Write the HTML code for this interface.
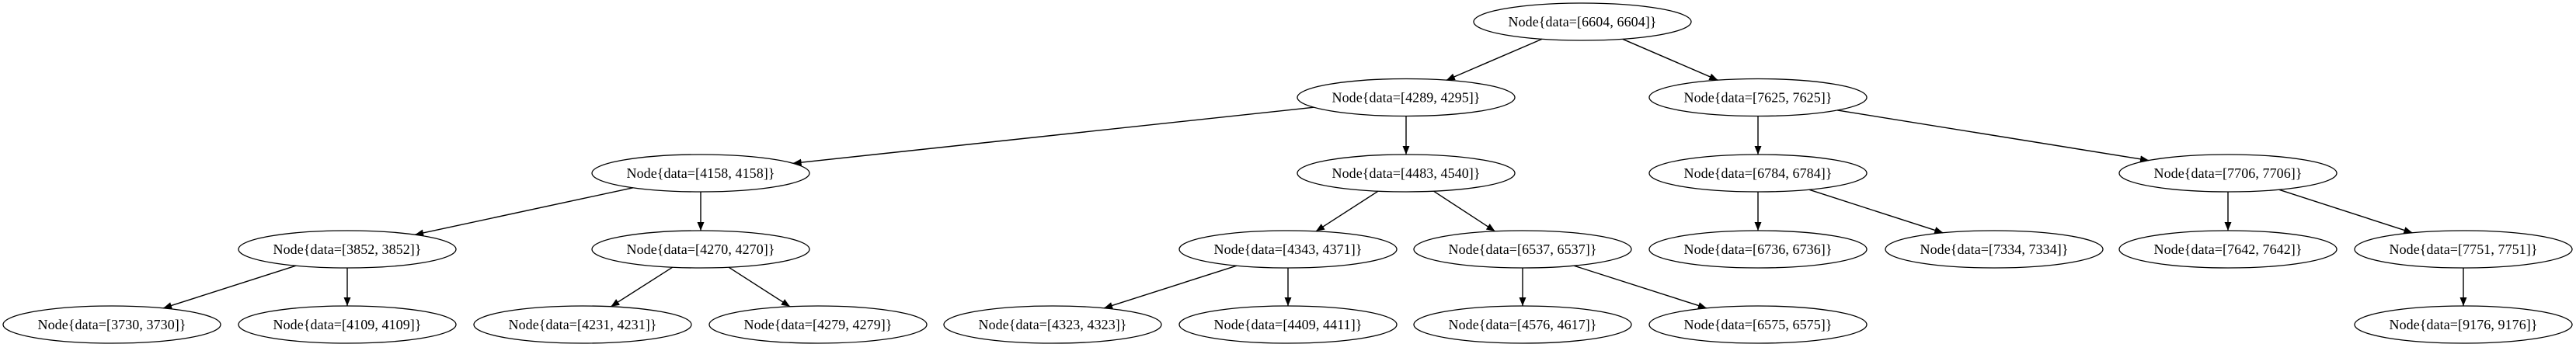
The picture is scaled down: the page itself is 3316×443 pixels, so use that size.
<!DOCTYPE html>
<html><head><meta charset="utf-8"><style>
html,body{margin:0;padding:0;background:#fff;}
svg{display:block;}
text{font-family:"Liberation Serif","DejaVu Serif",serif;font-size:18px;fill:#000;}
</style></head><body>
<svg id="s" width="3316" height="443" viewBox="0 0 3316 443" xmlns="http://www.w3.org/2000/svg">
<defs><marker id="a" markerUnits="userSpaceOnUse" markerWidth="12" markerHeight="10" refX="11" refY="4.5" orient="auto"><path d="M0,0 L11,4.5 L0,9 Z" fill="#000"/></marker></defs>
<g id="e" stroke="#000" stroke-width="1.4" fill="none"></g>
<g fill="none" stroke="#000" stroke-width="1.3">
<ellipse cx="2037" cy="28" rx="140" ry="24"/>
<ellipse cx="1810" cy="125.5" rx="140" ry="24"/>
<ellipse cx="2263" cy="125.5" rx="140" ry="24"/>
<ellipse cx="902" cy="223" rx="140" ry="24"/>
<ellipse cx="1810" cy="223" rx="140" ry="24"/>
<ellipse cx="2263" cy="223" rx="140" ry="24"/>
<ellipse cx="2868" cy="223" rx="140" ry="24"/>
<ellipse cx="447" cy="321" rx="140" ry="24"/>
<ellipse cx="902" cy="321" rx="140" ry="24"/>
<ellipse cx="1658" cy="321" rx="140" ry="24"/>
<ellipse cx="1960" cy="321" rx="140" ry="24"/>
<ellipse cx="2263" cy="321" rx="140" ry="24"/>
<ellipse cx="2567" cy="321" rx="140" ry="24"/>
<ellipse cx="2868" cy="321" rx="140" ry="24"/>
<ellipse cx="3171" cy="321" rx="140" ry="24"/>
<ellipse cx="144" cy="418" rx="140" ry="24"/>
<ellipse cx="447" cy="418" rx="140" ry="24"/>
<ellipse cx="750" cy="418" rx="140" ry="24"/>
<ellipse cx="1053" cy="418" rx="140" ry="24"/>
<ellipse cx="1355" cy="418" rx="140" ry="24"/>
<ellipse cx="1658" cy="418" rx="140" ry="24"/>
<ellipse cx="1960" cy="418" rx="140" ry="24"/>
<ellipse cx="2263" cy="418" rx="140" ry="24"/>
<ellipse cx="3171" cy="418" rx="140" ry="24"/>
</g>
<g text-anchor="middle">
<text x="2037" y="34" textLength="191">Node{data=[6604, 6604]}</text>
<text x="1810" y="131.5" textLength="191">Node{data=[4289, 4295]}</text>
<text x="2263" y="131.5" textLength="191">Node{data=[7625, 7625]}</text>
<text x="902" y="229" textLength="191">Node{data=[4158, 4158]}</text>
<text x="1810" y="229" textLength="191">Node{data=[4483, 4540]}</text>
<text x="2263" y="229" textLength="191">Node{data=[6784, 6784]}</text>
<text x="2868" y="229" textLength="191">Node{data=[7706, 7706]}</text>
<text x="447" y="327" textLength="191">Node{data=[3852, 3852]}</text>
<text x="902" y="327" textLength="191">Node{data=[4270, 4270]}</text>
<text x="1658" y="327" textLength="191">Node{data=[4343, 4371]}</text>
<text x="1960" y="327" textLength="191">Node{data=[6537, 6537]}</text>
<text x="2263" y="327" textLength="191">Node{data=[6736, 6736]}</text>
<text x="2567" y="327" textLength="191">Node{data=[7334, 7334]}</text>
<text x="2868" y="327" textLength="191">Node{data=[7642, 7642]}</text>
<text x="3171" y="327" textLength="191">Node{data=[7751, 7751]}</text>
<text x="144" y="424" textLength="191">Node{data=[3730, 3730]}</text>
<text x="447" y="424" textLength="191">Node{data=[4109, 4109]}</text>
<text x="750" y="424" textLength="191">Node{data=[4231, 4231]}</text>
<text x="1053" y="424" textLength="191">Node{data=[4279, 4279]}</text>
<text x="1355" y="424" textLength="191">Node{data=[4323, 4323]}</text>
<text x="1658" y="424" textLength="191">Node{data=[4409, 4411]}</text>
<text x="1960" y="424" textLength="191">Node{data=[4576, 4617]}</text>
<text x="2263" y="424" textLength="191">Node{data=[6575, 6575]}</text>
<text x="3171" y="424" textLength="191">Node{data=[9176, 9176]}</text>
</g>
</svg>
<script>
var E=[[2037,28,1810,125.5],[2037,28,2263,125.5],[1810,125.5,902,223],[1810,125.5,1810,223],[2263,125.5,2263,223],[2263,125.5,2868,223],
[902,223,447,321],[902,223,902,321],[1810,223,1658,321],[1810,223,1960,321],[2263,223,2263,321],[2263,223,2567,321],[2868,223,2868,321],[2868,223,3171,321],
[447,321,144,418],[447,321,447,418],[902,321,750,418],[902,321,1053,418],[1658,321,1355,418],[1658,321,1658,418],[1960,321,1960,418],[1960,321,2263,418],[3171,321,3171,418]];
var g=document.getElementById('e'),rx=140,ry=24;
E.forEach(function(e){var dx=e[2]-e[0],dy=e[3]-e[1];var t=1/Math.sqrt(Math.pow(dx/rx,2)+Math.pow(dy/ry,2));
var l=document.createElementNS('http://www.w3.org/2000/svg','line');
l.setAttribute('x1',e[0]+dx*t);l.setAttribute('y1',e[1]+dy*t);l.setAttribute('x2',e[2]-dx*t);l.setAttribute('y2',e[3]-dy*t);
l.setAttribute('marker-end','url(#a)');g.appendChild(l);});
</script>
</body></html>
